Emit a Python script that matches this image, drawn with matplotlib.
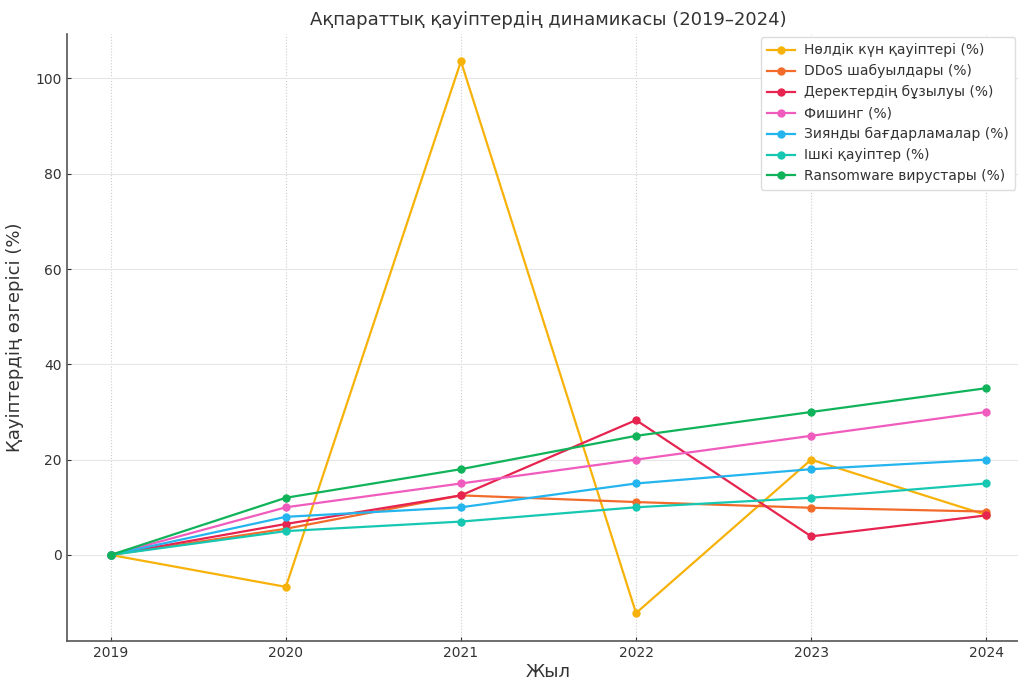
import matplotlib
matplotlib.use("Agg")
import matplotlib.pyplot as plt

years = [2019, 2020, 2021, 2022, 2023, 2024]

zero_day = [0, -6.7, 103.6, -12.2, 20.0, 8.4]
ddos = [0, 5.5, 12.5, 11.1, 9.9, 9.1]
data_breach = [0, 6.5, 12.5, 28.3, 3.9, 8.3]
phishing = [0, 10, 15, 20, 25, 30]
malware = [0, 8, 10, 15, 18, 20]
insider = [0, 5, 7, 10, 12, 15]
ransomware = [0, 12, 18, 25, 30, 35]

labels = [
    "Нөлдік күн қауіптері (%)",
    "DDoS шабуылдары (%)",
    "Деректердің бұзылуы (%)",
    "Фишинг (%)",
    "Зиянды бағдарламалар (%)",
    "Ішкі қауіптер (%)",
    "Ransomware вирустары (%)",
]
series = [zero_day, ddos, data_breach, phishing, malware, insider, ransomware]
colors = ["#f7b20a", "#f26b2a", "#e6244f", "#f05cbd", "#24b4ee", "#16c8b2", "#10b35a"]

fig = plt.figure(figsize=(10.18, 6.79), dpi=100)
ax = fig.add_axes([0.0658, 0.0564, 0.946, 0.894])

for vals, lab, col in zip(series, labels, colors):
    ax.plot(years, vals, marker="o", markersize=5, linewidth=1.6, color=col, label=lab)

ax.set_xlim(2018.75, 2024.25)
ax.set_ylim(-18, 109.4)
ax.set_xticks(years)
ax.set_yticks([0, 20, 40, 60, 80, 100])

ax.grid(axis="x", linestyle=":", color="#cccccc", linewidth=0.8)
ax.grid(axis="y", linestyle="-", color="#e6e6e6", linewidth=0.8)
ax.set_axisbelow(True)

for side in ("top", "right"):
    ax.spines[side].set_visible(False)
for side in ("left", "bottom"):
    ax.spines[side].set_color("#555555")
    ax.spines[side].set_linewidth(1.2)

ax.tick_params(colors="#333333", labelsize=10, length=3, direction="in", pad=4)
ax.set_title("Ақпараттық қауіптердің динамикасы (2019–2024)", fontsize=13, color="#333333", pad=6)
ax.set_xlabel("Жыл", fontsize=13, color="#333333", labelpad=2)
ax.set_ylabel("Қауіптердің өзгерісі (%)", fontsize=13, color="#333333", labelpad=8)

leg = ax.legend(loc="upper right", bbox_to_anchor=(1018 / 1030, 1.0), fontsize=10,
                frameon=True, framealpha=1, edgecolor="#dddddd", handlelength=2,
                labelspacing=0.5, borderpad=0.45, handletextpad=0.7, borderaxespad=0.25)
for t in leg.get_texts():
    t.set_color("#333333")

fig.savefig("out.png", dpi=100)
